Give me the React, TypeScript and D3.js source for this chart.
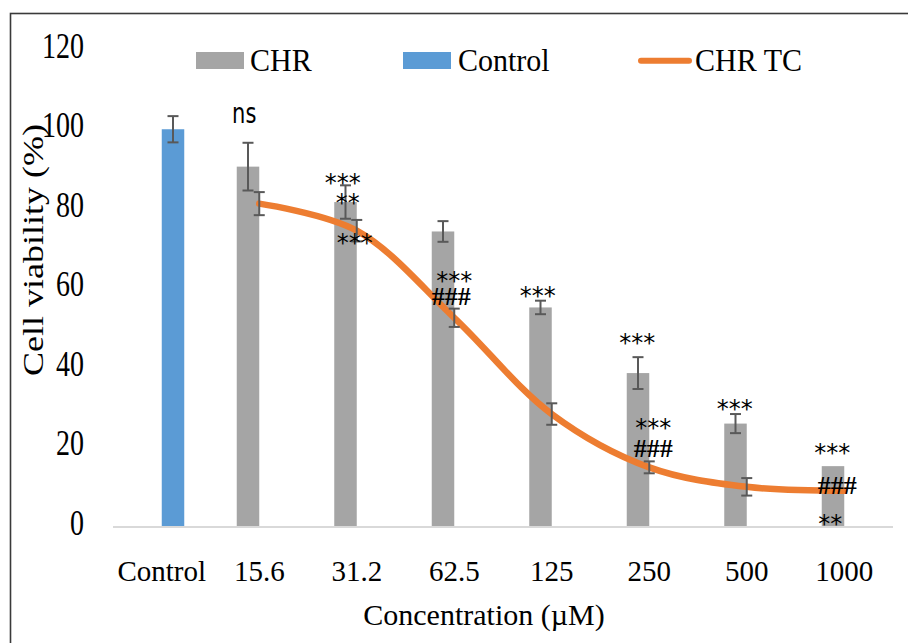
import React from 'react';
import * as d3 from 'd3';

// categories on the x axis
const categories = ['Control', '15.6', '31.2', '62.5', '125', '250', '500', '1000'];

// CHR bars (no value for the Control category)
const chrValues = [null, 90.6, 81.7, 74.3, 55.2, 38.7, 26.0, 15.3];
const chrErrors = [null, 6.0, 4.2, 2.6, 1.7, 4.0, 2.4, 0];

// Control bar
const controlValues = [100, null, null, null, null, null, null, null];
const controlErrors = [3.3, null, null, null, null, null, null, null];

// CHR TC line
const tcValues = [null, 81.3, 74.5, 52.6, 28.4, 15.0, 10.1, 9.1];
const tcErrors = [null, 2.9, 2.7, 2.3, 2.7, 1.5, 2.2, 0];

const yTicks = [0, 20, 40, 60, 80, 100, 120];

// significance marks: category, position in data units, x nudge, text
const marks = [
  { cat: '15.6', v: 103.6, dx: -15, text: 'ns' },
  { cat: '31.2', v: 88.0, dx: -14, text: '***' },
  { cat: '31.2', v: 83.0, dx: -9, text: '**' },
  { cat: '31.2', v: 72.9, dx: -2, text: '***' },
  { cat: '62.5', v: 63.4, dx: 0, text: '***' },
  { cat: '62.5', v: 58.1, dx: -3, text: '###' },
  { cat: '125', v: 59.6, dx: -14, text: '***' },
  { cat: '250', v: 47.8, dx: -12, text: '***' },
  { cat: '250', v: 26.4, dx: 4, text: '***' },
  { cat: '250', v: 19.9, dx: 4, text: '###' },
  { cat: '500', v: 31.2, dx: -12, text: '***' },
  { cat: '1000', v: 20.1, dx: -12, text: '***' },
  { cat: '1000', v: 10.6, dx: -7, text: '###' },
  { cat: '1000', v: 2.3, dx: -14, text: '**' },
];

const GRAY = '#A5A5A5';
const BLUE = '#5B9BD5';
const ORANGE = '#ED7D31';
const ERR = '#595959';
const SERIF = '"Liberation Serif", "Times New Roman", serif';
const SANS = '"DejaVu Sans", sans-serif';

const W = 908;
const H = 643;

export default function App() {
  const x0 = d3.scaleBand<string>().domain(categories).range([113, 893]).paddingInner(0);
  const bw = x0.bandwidth();
  const cx = (c: string) => (x0(c) || 0) + bw / 2;
  const x1 = d3.scaleBand<string>().domain(['CHR', 'Control']).range([-22.5, 22.5]);
  const y = d3.scaleLinear().domain([0, 120]).range([527, 49.7]);

  const linePts = categories
    .map((c, i) => ({ c, v: tcValues[i], e: tcErrors[i] }))
    .filter((d) => d.v != null) as { c: string; v: number; e: number }[];

  const lineGen = d3
    .line<{ c: string; v: number }>()
    .x((d) => cx(d.c))
    .y((d) => y(d.v))
    .curve(d3.curveCatmullRom.alpha(0.5));

  const errBar = (xx: number, v: number, e: number, key: string) => {
    if (!e) return null;
    const t = y(v + e);
    const b = y(v - e);
    return (
      <g key={key} stroke={ERR} strokeWidth={2}>
        <line x1={xx} x2={xx} y1={t} y2={b} />
        <line x1={xx - 5.5} x2={xx + 5.5} y1={t} y2={t} />
        <line x1={xx - 5.5} x2={xx + 5.5} y1={b} y2={b} />
      </g>
    );
  };

  return (
    <svg
      width={W}
      height={H}
      style={{ position: 'fixed', left: 0, top: 0, background: '#fff' }}
    >
      <rect x={0} y={0} width={W} height={H} fill="#fff" />
      {/* outer frame */}
      <rect x={10.5} y={13.5} width={W + 20} height={H + 20} fill="none" stroke="#3a3a3a" strokeWidth={1.6} />

      {/* y tick labels */}
      {yTicks.map((t) => (
        <text
          key={t}
          transform={`translate(84,${y(t) + 8}) scale(1,1.25)`}
          textAnchor="end"
          fontFamily={SERIF}
          fontSize={28}
          fill="#000"
        >
          {t}
        </text>
      ))}

      {/* y title */}
      <text
        transform="translate(43,250) rotate(-90) scale(1.2,1)"
        textAnchor="middle"
        fontFamily={SERIF}
        fontSize={30}
        fill="#000"
      >
        Cell viability (%)
      </text>

      {/* bars */}
      {categories.map((c, i) => {
        const v = chrValues[i];
        if (v == null) return null;
        return (
          <rect
            key={'chr' + c}
            x={cx(c) + (x1('CHR') || 0)}
            y={y(v)}
            width={x1.bandwidth()}
            height={y(0) - y(v)}
            fill={GRAY}
          />
        );
      })}
      {categories.map((c, i) => {
        const v = controlValues[i];
        if (v == null) return null;
        return (
          <rect
            key={'ctl' + c}
            x={cx(c) + (x1('Control') || 0)}
            y={y(v)}
            width={x1.bandwidth()}
            height={y(0) - y(v)}
            fill={BLUE}
          />
        );
      })}

      {/* x axis line */}
      <line x1={113} x2={893} y1={y(0)} y2={y(0)} stroke="#D9D9D9" strokeWidth={2} />

      {/* bar error bars */}
      {categories.map((c, i) =>
        chrValues[i] != null
          ? errBar(cx(c) + (x1('CHR') || 0) + x1.bandwidth() / 2, chrValues[i] as number, chrErrors[i] as number, 'ce' + c)
          : null
      )}
      {categories.map((c, i) =>
        controlValues[i] != null
          ? errBar(cx(c) + (x1('Control') || 0) + x1.bandwidth() / 2, controlValues[i] as number, controlErrors[i] as number, 'ke' + c)
          : null
      )}

      {/* CHR TC line */}
      <path
        d={lineGen(linePts) || ''}
        fill="none"
        stroke={ORANGE}
        strokeWidth={6.5}
        strokeLinecap="round"
        strokeLinejoin="round"
      />
      {linePts.map((d) => errBar(cx(d.c), d.v, d.e, 'te' + d.c))}

      {/* x tick labels */}
      {categories.map((c) => (
        <text key={'xl' + c} x={cx(c)} y={581} textAnchor="middle" fontFamily={SERIF} fontSize={29} fill="#000">
          {c}
        </text>
      ))}

      {/* x title */}
      <text x={484} y={625} textAnchor="middle" fontFamily={SERIF} fontSize={30} fill="#000">
        Concentration (µM)
      </text>

      {/* significance marks */}
      {marks.map((m, i) => {
        const mx = cx(m.cat) + m.dx;
        const my = y(m.v);
        if (m.text === 'ns') {
          return (
            <text
              key={'m' + i}
              transform={`translate(${mx},${my + 7.7}) scale(1,1.35)`}
              textAnchor="middle"
              fontFamily={SANS}
              fontSize={21}
              fill="#000"
            >
              {m.text}
            </text>
          );
        }
        if (m.text.startsWith('#')) {
          return (
            <text
              key={'m' + i}
              x={mx}
              y={my + 9}
              textAnchor="middle"
              fontFamily={SERIF}
              fontWeight="bold"
              fontSize={26}
              fill="#000"
            >
              {m.text}
            </text>
          );
        }
        return (
          <text key={'m' + i} x={mx} y={my + 14} textAnchor="middle" fontFamily={SANS} fontSize={24} fill="#000">
            {m.text}
          </text>
        );
      })}

      {/* legend */}
      <g>
        <rect x={196} y={52} width={48} height={17} fill={GRAY} />
        <text transform="translate(250,71) scale(1,1.08)" fontFamily={SERIF} fontSize={30} fill="#000">
          CHR
        </text>
        <rect x={403} y={52} width={48} height={17} fill={BLUE} />
        <text transform="translate(458,71) scale(1,1.08)" fontFamily={SERIF} fontSize={30} fill="#000">
          Control
        </text>
        <line x1={641} x2={689} y1={60.7} y2={60.7} stroke={ORANGE} strokeWidth={6} strokeLinecap="round" />
        <text transform="translate(695,71) scale(1,1.08)" fontFamily={SERIF} fontSize={30} fill="#000">
          CHR TC
        </text>
      </g>
    </svg>
  );
}
